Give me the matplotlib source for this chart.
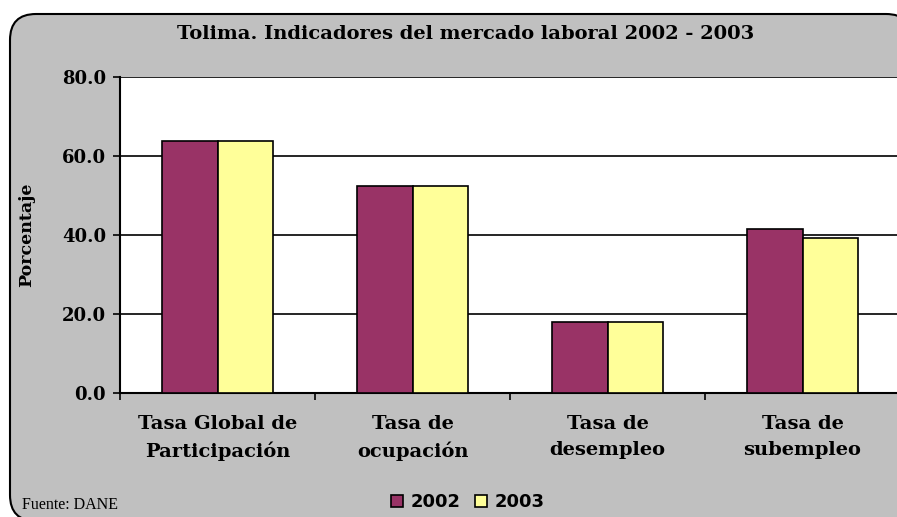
import numpy as np
import matplotlib.pyplot as plt
from matplotlib.patches import FancyBboxPatch

# Datos del gráfico
categorias = ['Tasa Global de\nParticipación', 'Tasa de\nocupación',
              'Tasa de\ndesempleo', 'Tasa de\nsubempleo']
valores_2002 = [63.9, 52.5, 18.0, 41.6]
valores_2003 = [63.9, 52.5, 18.0, 39.2]
series = ['2002', '2003']
colores = ['#993366', '#FFFF99']

W, H = 897, 517
fig = plt.figure(figsize=(W / 100, H / 100), dpi=100)
fig.patch.set_facecolor('white')

# Marco gris con esquinas redondeadas (se sale un poco por la derecha y abajo)
marco = FancyBboxPatch((10 / W, -4 / H), (912 - 10) / W, (521 - 14) / H,
                       boxstyle='round,pad=0,rounding_size=%f' % (26 / W),
                       transform=fig.transFigure, facecolor='#C0C0C0',
                       edgecolor='black', linewidth=1.5, zorder=-5,
                       mutation_aspect=W / H)
fig.patches.append(marco)

ax = fig.add_axes([120 / W, 1 - 393 / H, 780 / W, 316 / H])
ax.set_zorder(2)
ax.set_facecolor('white')

x = np.arange(len(categorias))
ancho = 0.286
ax.bar(x - ancho / 2, valores_2002, ancho, color=colores[0], edgecolor='black',
       linewidth=1.2, label=series[0], zorder=3)
ax.bar(x + ancho / 2, valores_2003, ancho, color=colores[1], edgecolor='black',
       linewidth=1.2, label=series[1], zorder=3)

ax.set_xlim(-0.5, len(categorias) - 0.5)
ax.set_ylim(0, 80)
ax.set_yticks(np.arange(0, 81, 20))
ax.set_yticklabels(['%.1f' % v for v in np.arange(0, 81, 20)],
                   fontfamily='DejaVu Serif', fontweight='bold', fontsize=13)
ax.yaxis.grid(True, color='black', linewidth=1.2, zorder=1)
ax.set_axisbelow(True)

ax.set_xticks(np.arange(-0.5, len(categorias), 1.0))
ax.set_xticklabels([])
ax.set_xticks(x, minor=True)
ax.set_xticklabels(categorias, minor=True, fontfamily='DejaVu Serif',
                   fontweight='bold', fontsize=14, linespacing=1.55)
ax.tick_params(axis='x', which='minor', length=0, pad=16)
ax.tick_params(axis='x', which='major', length=5, width=1.2, direction='out')
ax.tick_params(axis='y', length=5, width=1.2, direction='out', pad=5)

for lado in ['top', 'right']:
    ax.spines[lado].set_visible(False)
for lado in ['left', 'bottom']:
    ax.spines[lado].set_linewidth(1.5)

ax.set_ylabel('Porcentaje', fontfamily='DejaVu Serif', fontweight='bold',
              fontsize=12.5, labelpad=19)

fig.text(466 / W, 1 - 34 / H, 'Tolima. Indicadores del mercado laboral 2002 - 2003',
         ha='center', va='center', fontfamily='DejaVu Serif', fontweight='bold',
         fontsize=14)

fig.text(22 / W, 1 - 505 / H, 'Fuente: DANE', ha='left', va='center',
         fontfamily='Liberation Serif', fontsize=11.5)

fig.legend(loc='center', bbox_to_anchor=(468 / W, 1 - 502 / H), ncol=2,
           frameon=False, prop={'family': 'DejaVu Sans', 'weight': 'bold', 'size': 13},
           handlelength=0.65, handleheight=0.65, handletextpad=0.45,
           columnspacing=0.8, borderpad=0)

fig.savefig('out.png', dpi=100)
